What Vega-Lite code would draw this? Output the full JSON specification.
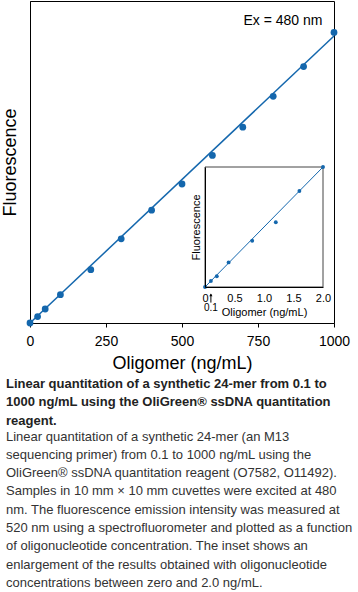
{
  "$schema": "https://vega.github.io/schema/vega-lite/v6.json",
  "width": 304,
  "height": 322,
  "autosize": {"type": "none"},
  "padding": {"left": 30, "top": 1, "right": 24, "bottom": 269},
  "background": "white",
  "config": {
    "font": "Liberation Sans",
    "view": {"stroke": "#000", "strokeWidth": 1},
    "axis": {"grid": false, "domainColor": "#000", "tickColor": "#000", "labelColor": "#000", "titleColor": "#000", "titleFontWeight": "normal", "labelFont": "Liberation Sans", "titleFont": "Liberation Sans"}
  },
  "datasets": {
    "main": [
      {"oligomer": 0, "fluorescence": 0},
      {"oligomer": 25, "fluorescence": 22},
      {"oligomer": 50, "fluorescence": 48},
      {"oligomer": 100, "fluorescence": 97},
      {"oligomer": 200, "fluorescence": 183},
      {"oligomer": 300, "fluorescence": 289},
      {"oligomer": 400, "fluorescence": 387},
      {"oligomer": 500, "fluorescence": 477},
      {"oligomer": 600, "fluorescence": 575},
      {"oligomer": 700, "fluorescence": 672},
      {"oligomer": 800, "fluorescence": 778},
      {"oligomer": 900, "fluorescence": 880},
      {"oligomer": 1000, "fluorescence": 997}
    ],
    "mainFit": [
      {"oligomer": 0, "fluorescence": 0},
      {"oligomer": 1000, "fluorescence": 985}
    ],
    "inset": [
      {"oligomer": 0, "fluorescence": 0},
      {"oligomer": 0.1, "fluorescence": 0.1},
      {"oligomer": 0.2, "fluorescence": 0.18},
      {"oligomer": 0.4, "fluorescence": 0.41},
      {"oligomer": 0.8, "fluorescence": 0.77},
      {"oligomer": 1.2, "fluorescence": 1.08},
      {"oligomer": 1.6, "fluorescence": 1.6},
      {"oligomer": 2.0, "fluorescence": 2.0}
    ],
    "insetFit": [
      {"oligomer": 0, "fluorescence": 0},
      {"oligomer": 2, "fluorescence": 2}
    ],
    "one": [{}]
  },
  "title": {
    "text": [
      "Linear quantitation of a synthetic 24-mer from 0.1 to",
      "1000 ng/mL using the OliGreen® ssDNA quantitation",
      "reagent."
    ],
    "subtitle": [
      "Linear quantitation of a synthetic 24-mer (an M13",
      "sequencing primer) from 0.1 to 1000 ng/mL using the",
      "OliGreen® ssDNA quantitation reagent (O7582, O11492).",
      "Samples in 10 mm × 10 mm cuvettes were excited at 480",
      "nm. The fluorescence emission intensity was measured at",
      "520 nm using a spectrofluorometer and plotted as a function",
      "of oligonucleotide concentration. The inset shows an",
      "enlargement of the results obtained with oligonucleotide",
      "concentrations between zero and 2.0 ng/mL."
    ],
    "orient": "bottom",
    "anchor": "start",
    "frame": "group",
    "dx": -24,
    "offset": 6,
    "font": "Liberation Sans",
    "fontSize": 13,
    "fontWeight": "bold",
    "color": "#222",
    "lineHeight": 18.3,
    "subtitleFont": "Liberation Sans",
    "subtitleFontSize": 13,
    "subtitleFontWeight": "normal",
    "subtitleColor": "#333",
    "subtitleLineHeight": 18.3,
    "subtitlePadding": 3
  },
  "layer": [
    {
      "layer": [
        {
          "data": {"name": "mainFit"},
          "mark": {"type": "line", "color": "#1467ad", "strokeWidth": 1.5},
          "encoding": {
            "x": {"field": "oligomer", "type": "quantitative"},
            "y": {"field": "fluorescence", "type": "quantitative"}
          }
        },
        {
          "data": {"name": "main"},
          "mark": {"type": "circle", "color": "#1467ad", "opacity": 1, "size": 46},
          "encoding": {
            "x": {
              "field": "oligomer", "type": "quantitative",
              "scale": {"domain": [0, 1000], "nice": false, "zero": false},
              "axis": {
                "values": [0, 250, 500, 750, 1000], "format": "d",
                "labelFontSize": 14, "labelPadding": 7, "labelFlush": false,
                "tickSize": 4, "title": "Oligomer (ng/mL)", "titleFontSize": 18,
                "titlePadding": 6
              }
            },
            "y": {
              "field": "fluorescence", "type": "quantitative",
              "scale": {"domain": [0, 1105], "nice": false},
              "axis": {
                "labels": false, "ticks": false, "title": "Fluorescence",
                "titleFontSize": 18, "titlePadding": 11
              }
            }
          }
        },
        {
          "data": {"name": "one"},
          "mark": {"type": "text", "text": "Ex = 480 nm", "align": "right", "baseline": "alphabetic", "fontSize": 14, "font": "Liberation Sans", "color": "#000"},
          "encoding": {
            "x": {"datum": 962, "type": "quantitative"},
            "y": {"datum": 1023, "type": "quantitative"}
          }
        }
      ]
    },
    {
      "layer": [
        {
          "data": {"name": "one"},
          "mark": {"type": "rect", "fill": "white", "stroke": "#444", "strokeWidth": 1},
          "encoding": {
            "x": {"datum": 0, "type": "quantitative"},
            "x2": {"datum": 2},
            "y": {"datum": 0, "type": "quantitative"},
            "y2": {"datum": 2}
          }
        },
        {
          "data": {"name": "insetFit"},
          "mark": {"type": "line", "color": "#1467ad", "strokeWidth": 1},
          "encoding": {
            "x": {"field": "oligomer", "type": "quantitative"},
            "y": {"field": "fluorescence", "type": "quantitative"}
          }
        },
        {
          "data": {"name": "inset"},
          "mark": {"type": "circle", "color": "#1467ad", "opacity": 1, "size": 15},
          "encoding": {
            "x": {
              "field": "oligomer", "type": "quantitative",
              "scale": {"domain": [0, 2], "range": [175, 293], "nice": false, "zero": false},
              "axis": {
                "orient": "bottom", "offset": -36, "zindex": 2,
                "values": [0, 0.5, 1, 1.5, 2],
                "labelExpr": "datum.value == 0 ? '0' : format(datum.value, '.1f')",
                "labelFontSize": 11, "labelPadding": 5, "labelFlush": false,
                "ticks": false, "title": "Oligomer (ng/mL)", "titleFontSize": 11,
                "titlePadding": 3
              }
            },
            "y": {
              "field": "fluorescence", "type": "quantitative",
              "scale": {"domain": [0, 2], "range": [286, 166], "nice": false},
              "axis": {
                "orient": "left", "offset": -175, "zindex": 2,
                "labels": false, "ticks": false, "title": "Fluorescence",
                "titleFontSize": 11, "titlePadding": 4
              }
            }
          }
        },
        {
          "data": {"name": "one"},
          "mark": {"type": "rule", "color": "#000", "strokeWidth": 1},
          "encoding": {
            "x": {"datum": 0.1, "type": "quantitative"},
            "y": {"datum": -0.12, "type": "quantitative"},
            "y2": {"datum": -0.26}
          }
        },
        {
          "data": {"name": "one"},
          "mark": {"type": "point", "shape": "triangle-up", "filled": true, "color": "#000", "size": 10, "opacity": 1},
          "encoding": {
            "x": {"datum": 0.1, "type": "quantitative"},
            "y": {"datum": -0.13, "type": "quantitative"}
          }
        },
        {
          "data": {"name": "one"},
          "mark": {"type": "text", "text": "0.1", "align": "center", "baseline": "top", "fontSize": 10, "font": "Liberation Sans", "color": "#000"},
          "encoding": {
            "x": {"datum": 0.1, "type": "quantitative"},
            "y": {"datum": -0.27, "type": "quantitative"}
          }
        }
      ]
    }
  ],
  "resolve": {"scale": {"x": "independent", "y": "independent"}, "axis": {"x": "independent", "y": "independent"}}
}
